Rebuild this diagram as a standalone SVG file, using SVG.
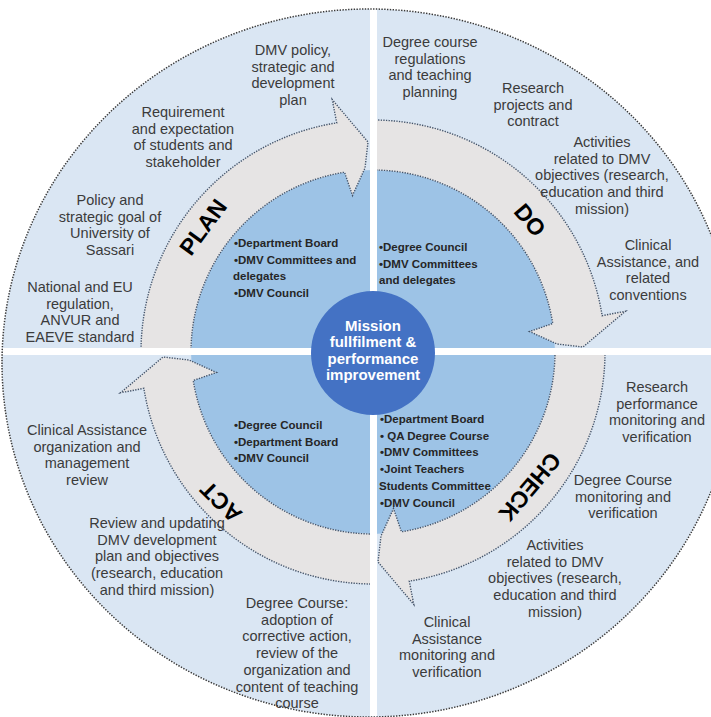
<svg xmlns="http://www.w3.org/2000/svg" xmlns:xlink="http://www.w3.org/1999/xlink" width="711" height="717" viewBox="0 0 711 717">
<style>
.t{font-family:"Liberation Sans",Arial,sans-serif;font-size:14.5px;fill:#3b3b3b;text-anchor:middle}
.b{font-family:"Liberation Sans",Arial,sans-serif;font-size:11.5px;font-weight:bold;fill:#262626}
.lab{font-family:"Liberation Sans",Arial,sans-serif;font-size:23px;font-weight:bold;fill:#000;text-anchor:middle}
.m{font-family:"Liberation Sans",Arial,sans-serif;font-size:15px;font-weight:bold;fill:#fff;text-anchor:middle}
.arrow{fill:#e6e4e4;stroke:#44546a;stroke-width:1.4;stroke-dasharray:1.3 1.3}
.bar{fill:#fff}
</style>
<defs>
<clipPath id="oc"><ellipse cx="369" cy="363" rx="367" ry="354"/></clipPath>
<path id="arw" class="arrow" d="M -232 0 A 232 232 0 0 1 -36.29 -229.14 L -40.8 -252.5 L -5 -210 L -8 -184 L -20.5 -156.5 L -28.47 -179.76 A 182 182 0 0 0 -182 0 Z"/>
</defs>
<rect width="711" height="717" fill="#fff"/>
<g id="outer-circle">
<ellipse cx="369" cy="363" rx="367" ry="354" fill="#dae6f3"/>
</g>
<g id="inner-disk">
<circle cx="373" cy="352" r="182" fill="#9dc3e6"/>
</g>
<g id="connectors">
<use xlink:href="#arw" transform="translate(373,352)"/>
<use xlink:href="#arw" transform="translate(373,352) rotate(90)"/>
<use xlink:href="#arw" transform="translate(373,352) rotate(180)"/>
<use xlink:href="#arw" transform="translate(373,352) rotate(270)"/>
</g>
<g id="cross" clip-path="url(#oc)">
<rect class="bar" x="370" y="0" width="7" height="717"/>
<rect class="bar" x="0" y="348" width="711" height="7"/>
</g>
<ellipse cx="369" cy="363" rx="367" ry="354" fill="none" stroke="#3a3a3a" stroke-width="1.5" stroke-dasharray="1.4 1.4"/>
<g id="center">
<circle cx="373" cy="353" r="62" fill="#4472c4"/>
<text class="m"><tspan x="373" y="330.5">Mission</tspan><tspan x="373" y="347">fullfilment &amp;</tspan><tspan x="373" y="363.5">performance</tspan><tspan x="373" y="380">improvement</tspan></text>
</g>
<g id="plan">
<text class="lab" transform="translate(203,227) rotate(-53.7)" y="8">PLAN</text>
<text class="t"><tspan x="293" y="55">DMV policy,</tspan><tspan x="293" y="71.7">strategic and</tspan><tspan x="293" y="88.4">development</tspan><tspan x="293" y="105">plan</tspan></text>
<text class="t"><tspan x="183" y="117">Requirement</tspan><tspan x="183" y="133.7">and expectation</tspan><tspan x="183" y="150.4">of students and</tspan><tspan x="183" y="167">stakeholder</tspan></text>
<text class="t"><tspan x="110" y="205">Policy and</tspan><tspan x="110" y="221.7">strategic goal of</tspan><tspan x="110" y="238.4">University of</tspan><tspan x="110" y="255">Sassari</tspan></text>
<text class="t"><tspan x="80" y="292">National and EU</tspan><tspan x="80" y="308.7">regulation,</tspan><tspan x="80" y="325.4">ANVUR and</tspan><tspan x="80" y="342">EAEVE standard</tspan></text>
<text class="b"><tspan x="234" y="247">•Department Board</tspan><tspan x="234" y="263.7">•DMV Committees and</tspan><tspan x="233" y="280.4">delegates</tspan><tspan x="234" y="297">•DMV Council</tspan></text>
</g>
<g id="do">
<text class="lab" transform="translate(530,220) rotate(49.9)" y="8">DO</text>
<text class="t"><tspan x="430" y="47">Degree course</tspan><tspan x="430" y="63.7">regulations</tspan><tspan x="430" y="80.4">and teaching</tspan><tspan x="430" y="97">planning</tspan></text>
<text class="t"><tspan x="533" y="93">Research</tspan><tspan x="533" y="109.7">projects and</tspan><tspan x="533" y="126.4">contract</tspan></text>
<text class="t"><tspan x="602" y="147">Activities</tspan><tspan x="602" y="163.7">related to DMV</tspan><tspan x="602" y="180.4">objectives (research,</tspan><tspan x="602" y="197">education and third</tspan><tspan x="602" y="214">mission)</tspan></text>
<text class="t"><tspan x="648" y="250">Clinical</tspan><tspan x="648" y="266.7">Assistance,  and</tspan><tspan x="648" y="283.4">related</tspan><tspan x="648" y="300">conventions</tspan></text>
<text class="b"><tspan x="379" y="251">•Degree Council</tspan><tspan x="379" y="267.7">•DMV Committees</tspan><tspan x="379" y="284.4">and delegates</tspan></text>
</g>
<g id="check">
<text class="lab" transform="translate(530,487) rotate(130.3)" y="8">CHECK</text>
<text class="t"><tspan x="657" y="392">Research</tspan><tspan x="657" y="408.7">performance</tspan><tspan x="657" y="425.4">monitoring and</tspan><tspan x="657" y="442">verification</tspan></text>
<text class="t"><tspan x="623" y="485">Degree Course</tspan><tspan x="623" y="501.7">monitoring and</tspan><tspan x="623" y="518.4">verification</tspan></text>
<text class="t"><tspan x="555" y="550">Activities</tspan><tspan x="555" y="566.7">related to DMV</tspan><tspan x="555" y="583.4">objectives (research,</tspan><tspan x="555" y="600">education and third</tspan><tspan x="555" y="616.8">mission)</tspan></text>
<text class="t"><tspan x="447" y="627">Clinical</tspan><tspan x="447" y="643.7">Assistance</tspan><tspan x="447" y="660.4">monitoring and</tspan><tspan x="447" y="677">verification</tspan></text>
<text class="b"><tspan x="380" y="423">•Department Board</tspan><tspan x="380" y="439.7">• QA Degree Course</tspan><tspan x="380" y="456.4">•DMV Committees</tspan><tspan x="380" y="473">•Joint Teachers</tspan><tspan x="379" y="489.8">Students Committee</tspan><tspan x="380" y="506.5">•DMV Council</tspan></text>
</g>
<g id="act">
<text class="lab" transform="translate(221,502) rotate(-135.4)" y="8">ACT</text>
<text class="t"><tspan x="87" y="435">Clinical Assistance</tspan><tspan x="87" y="451.7">organization and</tspan><tspan x="87" y="468.4">management</tspan><tspan x="87" y="485">review</tspan></text>
<text class="t"><tspan x="157" y="528">Review and updating</tspan><tspan x="157" y="544.7">DMV development</tspan><tspan x="157" y="561.4">plan and objectives</tspan><tspan x="157" y="578">(research, education</tspan><tspan x="157" y="594.8">and third mission)</tspan></text>
<text class="t"><tspan x="297" y="608">Degree Course:</tspan><tspan x="297" y="624.7">adoption of</tspan><tspan x="297" y="641.4">corrective action,</tspan><tspan x="297" y="658">review of the</tspan><tspan x="297" y="674.8">organization and</tspan><tspan x="297" y="691.5">content of teaching</tspan><tspan x="297" y="708.2">course</tspan></text>
<text class="b"><tspan x="234" y="429">•Degree Council</tspan><tspan x="234" y="445.7">•Department Board</tspan><tspan x="234" y="462.4">•DMV Council</tspan></text>
</g>
</svg>
